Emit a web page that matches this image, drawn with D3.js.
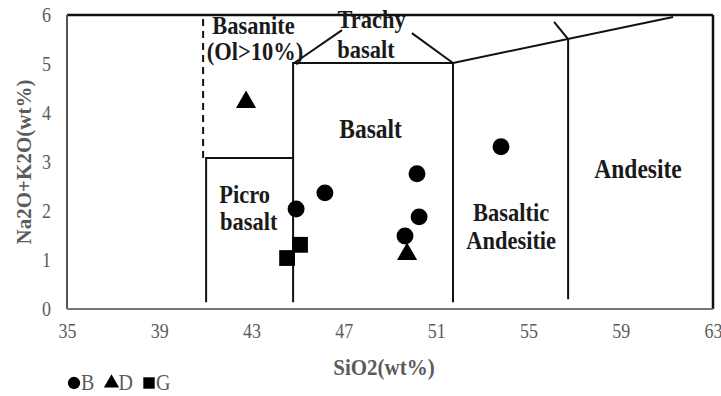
<!DOCTYPE html>
<html>
<head>
<meta charset="utf-8">
<script src="https://cdn.jsdelivr.net/npm/d3@7"></script>
<style>
  html, body { margin: 0; padding: 0; background: #fff; }
  svg { display: block; }
</style>
</head>
<body>
<svg id="chart" width="721" height="396"></svg>
<script>
// ---- data ----
const xTicks = [35, 39, 43, 47, 51, 55, 59, 63];
const yTicks = [0, 1, 2, 3, 4, 5, 6];
const seriesNames = ["B", "D", "G"];
const seriesB = [[46.18, 2.37], [44.93, 2.04], [50.17, 2.76], [50.26, 1.88], [49.65, 1.49], [53.81, 3.31]];
const seriesD = [[42.76, 4.22], [49.74, 1.12]];
const seriesG = [[45.10, 1.31], [44.54, 1.04]];
// TAS field boundaries (SiO2, Na2O+K2O)
const dashedBoundary = [[40.9, 3.08], [40.9, 6.0]];
const boundaries = [
  [[41.03, 0.14], [41.03, 3.08], [44.80, 3.08]],
  [[44.80, 0.14], [44.80, 5.02], [51.73, 5.02], [51.73, 0.14]],
  [[44.85, 5.02], [46.92, 5.69]],
  [[49.95, 5.63], [51.73, 5.02]],
  [[51.73, 5.02], [61.27, 5.96]],
  [[56.72, 0.20], [56.72, 5.51], [56.11, 5.86]]
];
const fieldLabels = [
  { text: "Basanite", x: 43.08, y: 5.61, anchor: "middle", big: false },
  { text: "(Ol>10%)", x: 43.15, y: 5.08, anchor: "middle", big: false },
  { text: "Trachy", x: 48.2, y: 5.73, anchor: "middle", big: false },
  { text: "basalt", x: 47.96, y: 5.12, anchor: "middle", big: false },
  { text: "Basalt", x: 48.16, y: 3.49, anchor: "middle", big: true },
  { text: "Andesite", x: 59.75, y: 2.67, anchor: "middle", big: true },
  { text: "Picro", x: 41.6, y: 2.16, anchor: "start", big: false },
  { text: "basalt", x: 41.63, y: 1.61, anchor: "start", big: false },
  { text: "Basaltic", x: 54.25, y: 1.80, anchor: "middle", big: false },
  { text: "Andesitie", x: 54.25, y: 1.22, anchor: "middle", big: false }
];
const xTitle = "SiO2(wt%)";
const yTitle = "Na2O+K2O(wt%)";

// ---- drawing ----
const svg = d3.select("#chart");
const x = d3.scaleLinear().domain([35, 63]).range([67, 713]);
const y = d3.scaleLinear().domain([0, 6]).range([309, 15]);
const serif = "'Liberation Serif', 'Times New Roman', serif";
const gray = "#5b5b5b";
const stretch = 1.12;

// axes
const xAxis = svg.append("g").attr("transform", "translate(0,309)")
  .call(d3.axisBottom(x).tickValues(xTicks).tickSize(0).tickPadding(0).tickFormat(d3.format("d")));
const yAxis = svg.append("g").attr("transform", "translate(67,0)")
  .call(d3.axisLeft(y).tickValues(yTicks).tickSize(0).tickPadding(0).tickFormat(d3.format("d")));
xAxis.select(".domain").remove();
yAxis.select(".domain").remove();
xAxis.selectAll("text").attr("y", 0).attr("dy", null)
  .attr("transform", `translate(0,29) scale(1,${stretch})`);
yAxis.selectAll("text").attr("x", 0).attr("dy", null)
  .attr("transform", `translate(-16,6) scale(1,${stretch})`);
[xAxis, yAxis].forEach(a => {
  a.selectAll("text").attr("font-family", serif).attr("font-size", 18).attr("fill", gray);
});

// frame
svg.append("line").attr("x1", x(35)).attr("x2", x(63)).attr("y1", y(6)).attr("y2", y(6))
  .attr("stroke", "#111").attr("stroke-width", 2.5);
svg.append("line").attr("x1", x(63)).attr("x2", x(63)).attr("y1", y(6)).attr("y2", y(0))
  .attr("stroke", "#111").attr("stroke-width", 2.5);
svg.append("line").attr("x1", x(35)).attr("x2", x(35)).attr("y1", y(6)).attr("y2", y(0))
  .attr("stroke", "#555").attr("stroke-width", 2);
svg.append("line").attr("x1", x(35)).attr("x2", x(63)).attr("y1", y(0)).attr("y2", y(0))
  .attr("stroke", "#777").attr("stroke-width", 2);

// boundaries
const line = d3.line().x(d => x(d[0])).y(d => y(d[1]));
svg.append("g").selectAll("path").data(boundaries).join("path")
  .attr("d", line).attr("fill", "none").attr("stroke", "#111").attr("stroke-width", 2);
svg.append("path").datum(dashedBoundary).attr("d", line)
  .attr("fill", "none").attr("stroke", "#111").attr("stroke-width", 2).attr("stroke-dasharray", "7,5");

// field labels
svg.append("g").selectAll("text").data(fieldLabels).join("text")
  .attr("transform", d => `translate(${x(d.x)},${y(d.y)}) scale(1,${stretch})`)
  .attr("text-anchor", d => d.anchor)
  .attr("font-family", serif).attr("font-weight", "bold").attr("font-size", d => d.big ? 23.5 : 22.5)
  .attr("fill", "#1a1a1a").text(d => d.text);

// points
const sym = {
  B: d3.symbol().type(d3.symbolCircle).size(225),
  D: d3.symbol().type(d3.symbolTriangle).size(175),
  G: d3.symbol().type(d3.symbolSquare).size(250)
};
const allSeries = { B: seriesB, D: seriesD, G: seriesG };
seriesNames.forEach(name => {
  svg.append("g").selectAll("path").data(allSeries[name]).join("path")
    .attr("transform", d => `translate(${x(d[0])},${y(d[1])})`)
    .attr("d", sym[name]()).attr("fill", "#000");
});

// axis titles
svg.append("text").attr("transform", `translate(384,375) scale(1,${stretch})`).attr("text-anchor", "middle")
  .attr("font-family", serif).attr("font-weight", "bold").attr("font-size", 21)
  .attr("fill", gray).text(xTitle);
svg.append("text").attr("transform", "translate(31,162) rotate(-90)").attr("text-anchor", "middle")
  .attr("font-family", serif).attr("font-weight", "bold").attr("font-size", 21)
  .attr("fill", gray).text(yTitle);

// legend
const legendSym = {
  B: d3.symbol().type(d3.symbolCircle).size(120),
  D: d3.symbol().type(d3.symbolTriangle).size(100),
  G: d3.symbol().type(d3.symbolSquare).size(130)
};
const lg = svg.append("g").attr("transform", "translate(74,383)");
seriesNames.forEach((name, i) => {
  const g = lg.append("g").attr("transform", `translate(${i * 37.5},0)`);
  g.append("path").attr("d", legendSym[name]()).attr("fill", "#000");
  g.append("text").attr("transform", `translate(7,7) scale(1,${stretch})`).attr("font-family", serif)
    .attr("font-size", 20).attr("fill", gray).text(name);
});
</script>
</body>
</html>
